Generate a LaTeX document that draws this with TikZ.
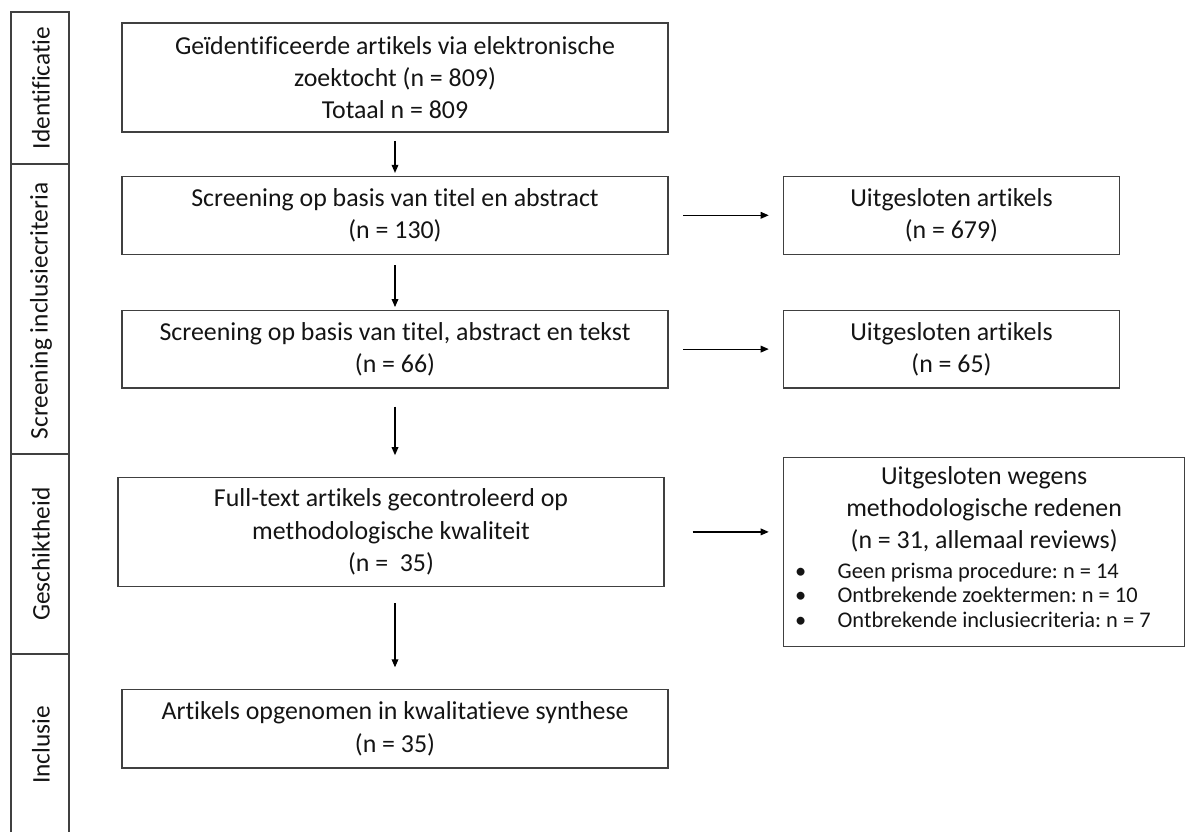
\documentclass[tikz,border=0pt]{standalone}
\usepackage{fontspec}
\setmainfont{Carlito}[Ligatures={NoCommon,NoContextual,NoRequired}]
\usetikzlibrary{
  positioning,
  arrows.meta
}
\definecolor{boxline}{RGB}{64,64,64}
\definecolor{textcol}{RGB}{20,20,20}
\tikzset{
  stagebox/.style={
    rectangle,
    draw=boxline,
    line width=1.1pt,
    minimum width=#1,
    inner sep=0pt,
    align=center,
    text=textcol,
    font=\fontsize{19.4}{24.2}\selectfont
  },
  stagebox/.default=409.5pt,
  boxtext/.style={
    inner sep=0pt,
    align=center,
    text=textcol,
    font=\fontsize{19.4}{24}\selectfont
  },
  bullettext/.style={
    inner sep=0pt,
    align=left,
    text=textcol,
    font=\fontsize{16.8}{18.3}\selectfont
  },
  arrow/.style={
    -{Triangle[length=6pt,width=5pt]},
    line width=0.9pt,
    color=black
  },
  phaseline/.style={
    line width=1.1pt,
    color=boxline
  },
  phaselabel/.style={
    rotate=90,
    text=textcol,
    font=\fontsize{19}{23}\selectfont
  }
}
\newcommand{\bulletline}[1]{\makebox[32pt][l]{•}#1}
\frenchspacing

\begin{document}
\begin{tikzpicture}[x=0.75pt, y=-0.75pt]
  \useasboundingbox (0,0) rectangle (1185,832);

  % Phase column
  \draw[phaseline] (11,832) -- (11,12) -- (69,12) -- (69,832);
  \draw[phaseline] (11,164) -- (69,164);
  \draw[phaseline] (11,454) -- (69,454);
  \draw[phaseline] (11,654) -- (69,654);
  \node[phaselabel] (identlabel) at (41,88) {Identificatie};
  \node[phaselabel] (screenlabel) at (41,311) {Screening inclusiecriteria};
  \node[phaselabel] (geschiktlabel) at (41,554) {Geschiktheid};
  \node[phaselabel] (incllabel) at (41,745) {Inclusie};

  % Main flow
  \node[stagebox, minimum height=82pt] (ident) at (395,77.5)
    {Geïdentificeerde artikels via elektronische\\zoektocht (n = 809)\\Totaal n = 809};
  \node[stagebox, minimum height=58.5pt, below=32pt of ident] (screen1)
    {Screening op basis van titel en abstract\\(n = 130)};
  \node[stagebox, minimum height=58pt, below=41pt of screen1] (screen2)
    {Screening op basis van titel, abstract en tekst\\(n = 66)};
  \node[stagebox, minimum height=82pt, below=66pt of screen2, xshift=-3pt] (fulltext)
    {Full-text artikels gecontroleerd op\\methodologische kwaliteit\\(n =\ \ 35)};
  \node[stagebox, minimum height=59pt, below=76pt of fulltext, xshift=3pt] (synthese)
    {Artikels opgenomen in kwalitatieve synthese\\(n = 35)};

  % Excluded
  \node[stagebox=252pt, minimum height=58.5pt, right=85.5pt of screen1] (excl1)
    {Uitgesloten artikels\\(n = 679)};
  \node[stagebox=252pt, minimum height=58pt, right=85.5pt of screen2] (excl2)
    {Uitgesloten artikels\\(n = 65)};
  \node[stagebox=301pt, minimum height=142pt,
        right=88.5pt of fulltext.north east, anchor=north west, yshift=15pt] (excl3) {};
  \node[boxtext, below=7.5pt of excl3.north] (excl3head)
    {Uitgesloten wegens\\methodologische redenen\\(n = 31, allemaal reviews)};
  \coordinate (bulletanchor) at (excl3head.south -| excl3.west);
  \node[bullettext, below right=7.5pt and 9pt of bulletanchor] (excl3list)
    {\bulletline{Geen prisma procedure: n = 14}\\
     \bulletline{Ontbrekende zoektermen: n = 10}\\
     \bulletline{Ontbrekende inclusiecriteria: n = 7}};

  % Flow arrows
  \draw[arrow, shorten <=6pt, shorten >=2pt] (ident) -- (screen1);
  \draw[arrow, shorten <=7.5pt, shorten >=2pt] (screen1) -- (screen2);
  \draw[arrow, shorten <=13.5pt, shorten >=16pt] (screen2.south) -- (screen2.south |- fulltext.north);
  \draw[arrow, shorten <=12pt, shorten >=16pt] (synthese.north |- fulltext.south) -- (synthese.north);

  % Exclusion arrows
  \draw[arrow, shorten <=11pt, shorten >=10.5pt] (screen1) -- (excl1);
  \draw[arrow, shorten <=11pt, shorten >=10.5pt] (screen2) -- (excl2);
  \draw[arrow, shorten <=21pt, shorten >=10.5pt] (fulltext.east) -- (fulltext.east -| excl3.west);
\end{tikzpicture}
\end{document}
